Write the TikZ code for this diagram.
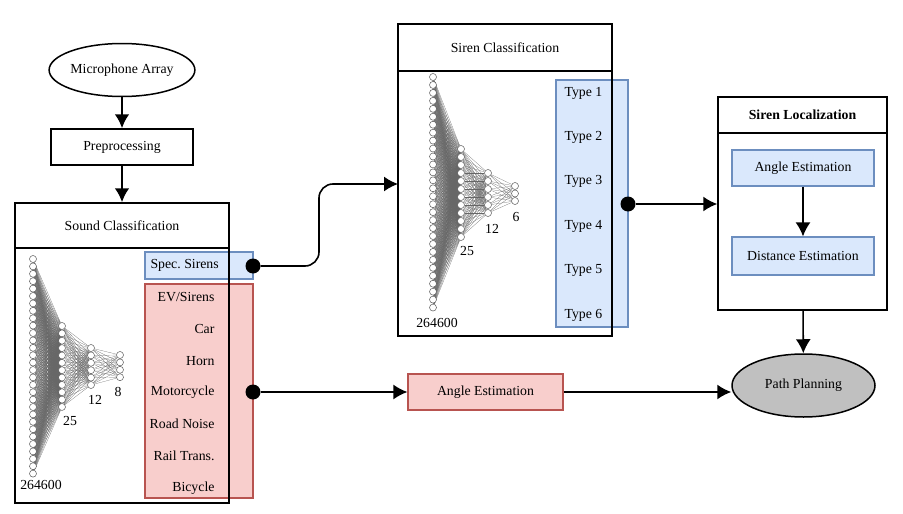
\documentclass[tikz,border=0pt]{standalone}
\usepackage{fontspec}
\setmainfont{Liberation Serif}
\usetikzlibrary{arrows.meta,shapes.geometric,backgrounds}

\definecolor{bluefill}{HTML}{DAE8FC}
\definecolor{blueline}{HTML}{6C8EBF}
\definecolor{redfill}{HTML}{F8CECC}
\definecolor{redline}{HTML}{B85450}
\definecolor{planfill}{HTML}{C0C0C0}

\tikzset{
  frame/.style={shape=rectangle,draw,line width=1.5pt,inner sep=0pt},
  stepbox/.style={shape=rectangle,draw,line width=1.5pt,inner sep=0pt},
  terminal/.style={shape=ellipse,draw,line width=1.5pt,inner sep=0pt},
  bluebox/.style={shape=rectangle,draw=blueline,fill=bluefill,line width=1.2pt,inner sep=0pt},
  redbox/.style={shape=rectangle,draw=redline,fill=redfill,line width=1.2pt,inner sep=0pt},
  dot/.style={shape=circle,fill=black,minimum size=15pt,inner sep=0pt},
  neuron/.style={shape=circle,draw=black!65,fill=white,line width=0.5pt,minimum size=7pt,inner sep=0pt},
  syn/.style={draw=black!60,line width=0.2pt},
  flow/.style={->,line width=2.6pt},
  conn/.style={line width=1.6pt}
}

\begin{document}
\begin{tikzpicture}[x=1pt,y=-1pt,>={Latex[length=14pt,width=15pt]},font=\fontsize{13.8}{16}\selectfont]
  \useasboundingbox (0,0) rectangle (903,514);

  % input chain
  \node (mic) at (122,70) [terminal,minimum width=143pt,minimum height=53pt] {Microphone Array};
  \node (pre) at (122,147) [stepbox,minimum width=142pt,minimum height=36pt] {Preprocessing};

  % sound classification
  \node (sndlist) at (199,391) [redbox,minimum width=108pt,minimum height=214pt] {};
  \node (spec) at (199,265.5) [bluebox,minimum width=108pt,minimum height=27pt] {};
  \node (sndhead) at (122,225.5) [frame,minimum width=214pt,minimum height=45pt] {Sound Classification};
  \node (sndbody) at (122,375.5) [frame,minimum width=214pt,minimum height=255pt] {};
  \node (spectxt) at (147,265) [anchor=west] {Spec.~Sirens};
  \foreach \t [count=\k] in {EV/Sirens,Car,Horn,Motorcycle,Road Noise,Rail Trans.,Bicycle}
    \node (snd\k) at (218,{297+(\k-1)*31.8}) [anchor=east] {\t};

  \foreach \i in {1,...,30} \node (sa\i) at (33,{259+(\i-1)*7.4}) [neuron] {};
  \foreach \i in {1,...,12} \node (sb\i) at (62,{326+(\i-1)*7.36}) [neuron] {};
  \foreach \i in {1,...,6} \node (sc\i) at (91,{348+(\i-1)*7.4}) [neuron] {};
  \foreach \i in {1,...,4} \node (sd\i) at (120,{355+(\i-1)*7.4}) [neuron] {};
  \begin{scope}[on background layer]
    \foreach \i in {1,...,30} \foreach \j in {1,...,12} \draw [syn] (sa\i) -- (sb\j);
    \foreach \i in {1,...,12} \foreach \j in {1,...,6} \draw [syn] (sb\i) -- (sc\j);
    \foreach \i in {1,...,6} \foreach \j in {1,...,4} \draw [syn] (sc\i) -- (sd\j);
  \end{scope}
  \node (sanum) at (41,485) {264600};
  \node (sbnum) at (70,421) {25};
  \node (scnum) at (95,400) {12};
  \node (sdnum) at (118,392) {8};

  % siren classification
  \node (types) at (592,203.5) [bluebox,minimum width=72pt,minimum height=247pt] {};
  \node (sirhead) at (505,47.5) [frame,minimum width=214pt,minimum height=47pt] {Siren Classification};
  \node (sirbody) at (505,203.5) [frame,minimum width=214pt,minimum height=265pt] {};
  \foreach \k in {1,...,6}
    \node (type\k) at (561,{93+(\k-1)*44.4}) [anchor=west] {Type \k};

  \foreach \i in {1,...,30} \node (ra\i) at (433,{77+(\i-1)*7.95}) [neuron] {};
  \foreach \i in {1,...,12} \node (rb\i) at (461,{149+(\i-1)*8}) [neuron] {};
  \foreach \i in {1,...,6} \node (rc\i) at (488,{173+(\i-1)*8}) [neuron] {};
  \foreach \i in {1,...,3} \node (rd\i) at (515,{186+(\i-1)*7.5}) [neuron] {};
  \begin{scope}[on background layer]
    \foreach \i in {1,...,30} \foreach \j in {1,...,12} \draw [syn] (ra\i) -- (rb\j);
    \foreach \i in {1,...,12} \foreach \j in {1,...,6} \draw [syn] (rb\i) -- (rc\j);
    \foreach \i in {1,...,6} \foreach \j in {1,...,3} \draw [syn] (rc\i) -- (rd\j);
  \end{scope}
  \node (ranum) at (437,323) {264600};
  \node (rbnum) at (467,251) {25};
  \node (rcnum) at (492,229) {12};
  \node (rdnum) at (516,217) {6};

  % siren localization
  \node (lochead) at (802.5,115) [frame,minimum width=169pt,minimum height=36pt] {\bfseries Siren Localization};
  \node (locbody) at (802.5,221.5) [frame,minimum width=169pt,minimum height=177pt] {};
  \node (locang) at (803,168) [bluebox,minimum width=142pt,minimum height=36pt] {Angle Estimation};
  \node (locdist) at (803,256) [bluebox,minimum width=142pt,minimum height=38pt] {Distance Estimation};

  % lower path
  \node (redang) at (485.5,392) [redbox,minimum width=155pt,minimum height=36pt] {Angle Estimation};
  \node (plan) at (803.5,385.5) [terminal,fill=planfill,minimum width=143pt,minimum height=63pt] {Path Planning};

  \node (dot1) at (253,266) [dot] {};
  \node (dot2) at (253,392) [dot] {};
  \node (dot3) at (628,204) [dot] {};
  \coordinate (sirin) at (398,184);

  \draw [flow] (mic) -- (pre);
  \draw [flow] (pre) -- (sndhead);

  \draw [conn,->,rounded corners=14pt] (dot1) -| (319,225) |- (sirin);
  \draw [conn,->] (dot2) -- (redang);
  \draw [conn,->] (redang) -- (redang -| plan.west);
  \draw [conn,->] (dot3) -- (dot3 -| locbody.west);
  \draw [conn,->] (locang) -- (locdist);
  \draw [conn,->] (locbody) -- (plan);
\end{tikzpicture}
\end{document}
